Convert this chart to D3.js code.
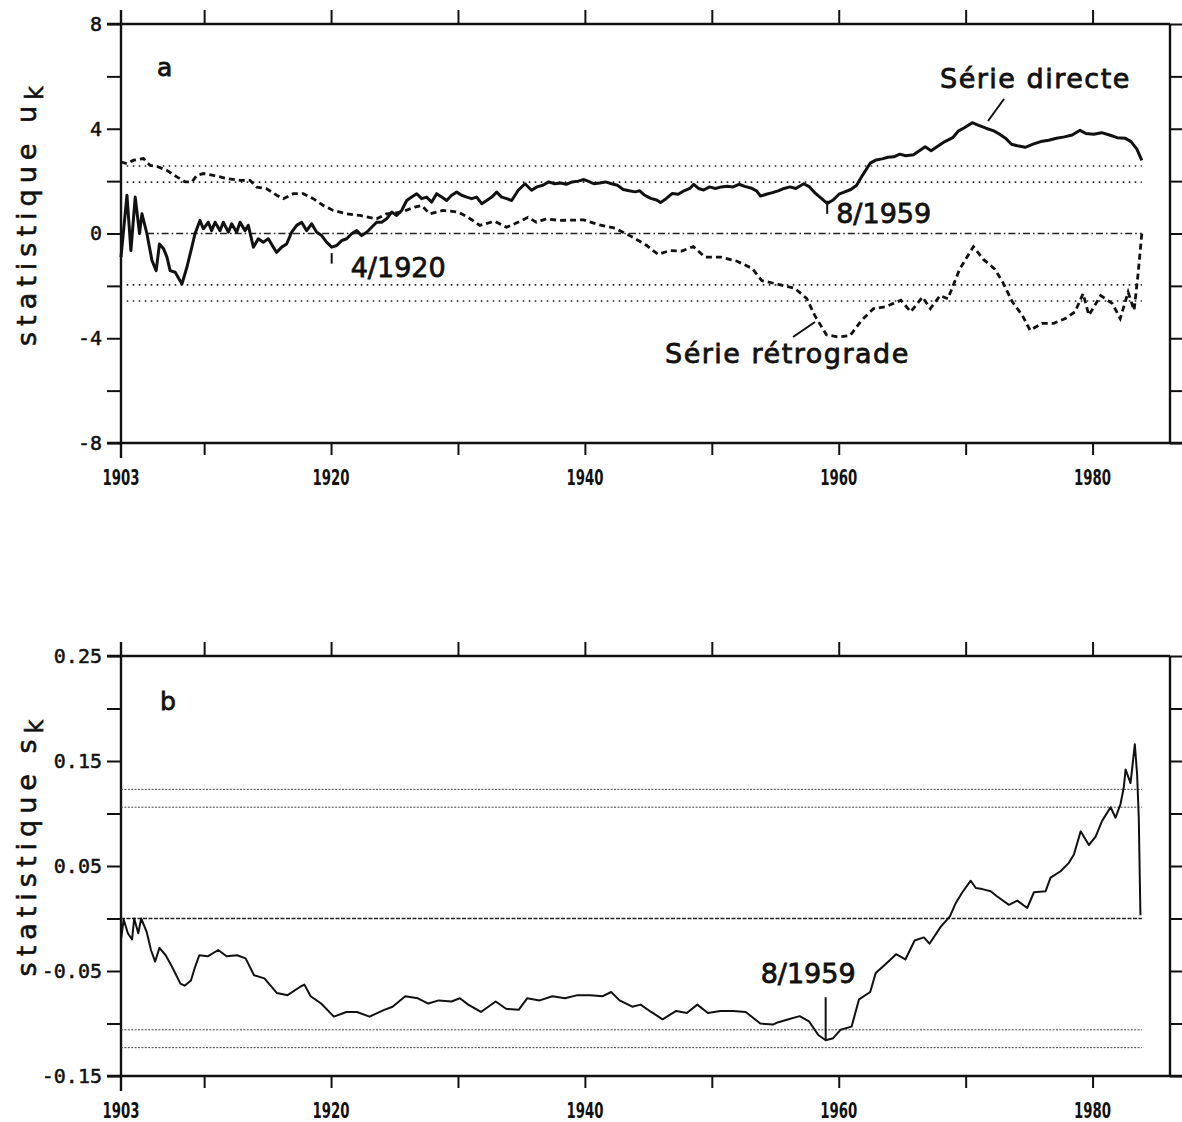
<!DOCTYPE html>
<html>
<head>
<meta charset="utf-8">
<script src="https://cdn.jsdelivr.net/npm/d3@7"></script>
<style>
  body { margin: 0; background: #fff; }
  text { fill: #111; }
</style>
</head>
<body>
<div id="chart"></div>
<script>
// test de Mann-Kendall : serie directe u(t), serie retrograde u'(t) et statistique s_k
var serieDirecte = [
  [1903.45, -0.9], [1903.92, 1.46], [1904.23, -0.65], [1904.57, 1.39], [1904.91, 0.0],
  [1905.1, 0.75], [1905.49, 0.0], [1905.89, -1.03], [1906.22, -1.42], [1906.48, -0.4],
  [1906.8, -0.58], [1907.07, -0.9], [1907.32, -1.42], [1907.72, -1.48], [1908.25, -1.93],
  [1908.64, -1.29], [1909.03, -0.52], [1909.28, -0.01], [1909.67, 0.5], [1909.94, 0.18],
  [1910.33, 0.43], [1910.59, 0.11], [1910.86, 0.43], [1911.25, 0.11], [1911.51, 0.43],
  [1911.91, 0.05], [1912.17, 0.37], [1912.56, 0.05], [1912.83, 0.43], [1913.22, 0.11],
  [1913.48, 0.31], [1913.88, -0.52], [1914.27, -0.2], [1914.66, -0.33], [1915.06, -0.2],
  [1915.45, -0.52], [1915.71, -0.72], [1916.11, -0.52], [1916.5, -0.4], [1916.9, 0.05],
  [1917.29, 0.31], [1917.68, 0.43], [1918.08, 0.11], [1918.47, 0.37], [1918.87, 0.05],
  [1919.26, -0.08], [1919.65, -0.33], [1920.05, -0.52], [1920.44, -0.46], [1920.84, -0.27],
  [1921.23, -0.2], [1921.62, -0.01], [1922.02, 0.11], [1922.41, -0.08], [1922.81, 0.05],
  [1923.2, 0.24], [1923.59, 0.43], [1923.99, 0.43], [1924.38, 0.56], [1924.78, 0.82],
  [1925.17, 0.69], [1925.56, 0.88], [1925.96, 1.26], [1926.35, 1.39], [1926.75, 1.52],
  [1927.14, 1.33], [1927.53, 1.39], [1927.93, 1.2], [1928.32, 1.52], [1928.72, 1.39],
  [1929.11, 1.26], [1929.5, 1.46], [1929.9, 1.58], [1930.29, 1.46], [1930.69, 1.39],
  [1931.08, 1.33], [1931.47, 1.39], [1931.87, 1.14], [1932.26, 1.26], [1932.66, 1.39],
  [1933.05, 1.58], [1933.44, 1.39], [1933.84, 1.33], [1934.23, 1.26], [1934.75, 1.65],
  [1935.28, 1.9], [1935.8, 1.65], [1936.22, 1.78], [1936.69, 1.84], [1937.15, 1.97],
  [1937.62, 1.9], [1938.08, 1.93], [1938.54, 1.88], [1939.01, 1.97], [1939.47, 2.0],
  [1939.93, 2.06], [1940.24, 2.0], [1940.7, 1.9], [1941.17, 1.93], [1941.63, 1.97],
  [1942.1, 1.9], [1942.56, 1.84], [1943.02, 1.68], [1943.49, 1.63], [1943.95, 1.59],
  [1944.32, 1.63], [1944.72, 1.46], [1945.19, 1.34], [1945.65, 1.28], [1945.96, 1.18],
  [1946.42, 1.34], [1946.89, 1.53], [1947.35, 1.5], [1947.81, 1.63], [1948.27, 1.72],
  [1948.58, 1.88], [1948.95, 1.72], [1949.36, 1.66], [1949.82, 1.78], [1950.28, 1.72],
  [1950.75, 1.78], [1951.21, 1.8], [1951.68, 1.78], [1952.14, 1.88], [1952.6, 1.8],
  [1953.07, 1.74], [1953.53, 1.63], [1953.84, 1.43], [1954.3, 1.5], [1954.77, 1.56],
  [1955.23, 1.63], [1955.69, 1.72], [1956.16, 1.78], [1956.62, 1.72], [1957.24, 1.9],
  [1957.7, 1.78], [1958.17, 1.53], [1958.63, 1.34], [1959.09, 1.15], [1959.56, 1.28],
  [1960.02, 1.5], [1960.48, 1.59], [1960.95, 1.68], [1961.41, 1.84], [1961.87, 2.22],
  [1962.49, 2.69], [1962.95, 2.81], [1963.42, 2.85], [1963.88, 2.91], [1964.34, 2.93],
  [1964.81, 3.03], [1965.27, 2.97], [1965.89, 3.01], [1966.35, 3.16], [1966.81, 3.31],
  [1967.28, 3.16], [1967.74, 3.31], [1968.36, 3.51], [1968.98, 3.66], [1969.44, 3.92],
  [1969.9, 4.04], [1970.52, 4.23], [1970.98, 4.14], [1971.6, 4.02], [1972.22, 3.92],
  [1972.68, 3.79], [1973.14, 3.64], [1973.61, 3.41], [1974.07, 3.35], [1974.69, 3.29],
  [1975.31, 3.41], [1975.92, 3.51], [1976.54, 3.56], [1977.16, 3.64], [1977.78, 3.69],
  [1978.39, 3.76], [1979.01, 3.94], [1979.47, 3.82], [1980.09, 3.79], [1980.71, 3.85],
  [1981.33, 3.76], [1981.94, 3.66], [1982.56, 3.64], [1983.03, 3.51], [1983.49, 3.22],
  [1983.88, 2.79]
];

var serieRetrograde = [
  [1903.45, 2.73], [1903.92, 2.67], [1904.44, 2.8], [1905.22, 2.86], [1905.75, 2.6],
  [1906.4, 2.54], [1907.07, 2.41], [1907.85, 2.16], [1908.51, 1.97], [1909.03, 1.97],
  [1909.43, 2.22], [1909.94, 2.29], [1910.73, 2.22], [1911.79, 2.1], [1912.83, 2.03],
  [1913.62, 2.03], [1914.15, 1.77], [1914.93, 1.71], [1915.72, 1.46], [1916.24, 1.33],
  [1917.03, 1.52], [1917.81, 1.52], [1918.6, 1.33], [1919.39, 1.07], [1920.17, 0.88],
  [1921.23, 0.75], [1922.27, 0.69], [1923.59, 0.56], [1924.37, 0.75], [1925.55, 0.82],
  [1926.6, 1.01], [1927.13, 1.07], [1927.78, 0.75], [1928.83, 0.88], [1930.01, 0.82],
  [1930.79, 0.62], [1931.72, 0.31], [1932.9, 0.47], [1933.82, 0.24], [1934.47, 0.37],
  [1935.52, 0.62], [1936.18, 0.43], [1936.96, 0.56], [1938.01, 0.5], [1939.9, 0.52],
  [1941.14, 0.33], [1942.38, 0.2], [1943.61, -0.1], [1944.85, -0.45], [1945.77, -0.8],
  [1946.7, -0.65], [1947.62, -0.67], [1948.54, -0.5], [1949.46, -0.9], [1950.7, -0.9],
  [1951.94, -1.05], [1953.17, -1.33], [1953.94, -1.8], [1955.33, -1.95], [1956.56, -2.1],
  [1957.49, -2.49], [1958.1, -3.12], [1959.03, -3.87], [1959.96, -3.95], [1960.89, -3.9],
  [1961.81, -3.31], [1962.74, -2.87], [1963.67, -2.8], [1964.9, -2.55], [1965.67, -2.99],
  [1966.6, -2.43], [1967.22, -2.87], [1967.99, -2.37], [1968.6, -2.49], [1969.53, -1.36],
  [1970.61, -0.5], [1971.38, -0.98], [1972.3, -1.36], [1972.92, -1.86], [1973.69, -2.62],
  [1974.46, -3.12], [1975.08, -3.7], [1976.0, -3.43], [1976.93, -3.43], [1977.85, -3.25],
  [1978.62, -2.99], [1979.25, -2.3], [1979.71, -3.12], [1980.64, -2.37], [1981.57, -2.68],
  [1982.18, -3.25], [1982.8, -2.24], [1983.27, -2.93], [1983.57, -1.61], [1983.88, 0.0]
];

var statSk = [
  [1903.45, -0.02], [1903.66, -0.001], [1903.99, -0.014], [1904.32, -0.02], [1904.49, 0.0],
  [1904.81, -0.014], [1905.04, 0.0], [1905.48, -0.013], [1905.81, -0.03], [1906.14, -0.041],
  [1906.48, -0.028], [1906.97, -0.035], [1907.47, -0.046], [1908.13, -0.062], [1908.46, -0.064],
  [1908.96, -0.059], [1909.29, -0.046], [1909.62, -0.035], [1910.28, -0.036], [1911.11, -0.03],
  [1911.77, -0.036], [1912.6, -0.035], [1913.27, -0.038], [1913.93, -0.054], [1914.75, -0.057],
  [1915.74, -0.071], [1916.58, -0.073], [1917.57, -0.065], [1917.9, -0.063], [1918.39, -0.074],
  [1919.22, -0.081], [1920.22, -0.0935], [1921.21, -0.089], [1922.04, -0.089], [1923.03, -0.0935],
  [1924.19, -0.087], [1924.85, -0.084], [1925.85, -0.074], [1926.84, -0.076], [1927.66, -0.081],
  [1928.49, -0.078], [1929.49, -0.079], [1930.15, -0.076], [1930.81, -0.082], [1931.81, -0.089],
  [1932.97, -0.079], [1933.79, -0.086], [1934.78, -0.087], [1935.45, -0.076], [1936.44, -0.078],
  [1937.44, -0.074], [1938.43, -0.076], [1939.42, -0.073], [1940.42, -0.073], [1941.41, -0.074],
  [1942.07, -0.07], [1942.73, -0.078], [1943.73, -0.084], [1944.39, -0.082], [1945.22, -0.089],
  [1946.12, -0.096], [1947.2, -0.088], [1948.03, -0.09], [1948.86, -0.082], [1949.69, -0.09],
  [1950.68, -0.088], [1951.68, -0.088], [1952.67, -0.089], [1953.82, -0.1], [1954.82, -0.101],
  [1955.18, -0.099], [1956.05, -0.096], [1956.92, -0.093], [1957.66, -0.098], [1958.39, -0.111],
  [1958.97, -0.116], [1959.56, -0.114], [1960.14, -0.106], [1961.01, -0.103], [1961.6, -0.077],
  [1962.48, -0.07], [1962.91, -0.052], [1963.64, -0.044], [1964.52, -0.034], [1965.25, -0.039],
  [1965.98, -0.021], [1966.71, -0.018], [1967.15, -0.024], [1968.03, -0.008], [1968.76, 0.002],
  [1969.19, 0.014], [1969.74, 0.025], [1970.4, 0.036], [1970.8, 0.029], [1971.31, 0.028],
  [1971.97, 0.026], [1972.49, 0.021], [1973.41, 0.013], [1974.07, 0.017], [1974.85, 0.01],
  [1975.38, 0.025], [1976.3, 0.026], [1976.69, 0.039], [1977.48, 0.045], [1978.13, 0.053],
  [1978.53, 0.061], [1979.06, 0.083], [1979.71, 0.07], [1980.24, 0.078], [1980.75, 0.093],
  [1981.42, 0.106], [1981.81, 0.096], [1982.2, 0.109], [1982.46, 0.125], [1982.6, 0.142],
  [1982.99, 0.129], [1983.33, 0.166], [1983.51, 0.137], [1983.64, 0.096], [1983.77, 0.003]
];

var yearTicks = [1910, 1920, 1930, 1940, 1950, 1960, 1970, 1980];
var yearLabels = [1903, 1920, 1940, 1960, 1980];
var ukTicks = [-8, -6, -4, -2, 0, 2, 4, 6, 8];
var ukLabels = [-8, -4, 0, 4, 8];
var skTicks = [-0.15, -0.1, -0.05, 0, 0.05, 0.1, 0.15, 0.2, 0.25];
var skLabels = [-0.15, -0.05, 0.05, 0.15, 0.25];
var seuilsUk = [2.58, 1.96, -1.96, -2.58];
var seuilsSk = [0.123, 0.106, -0.106, -0.123];

var width = 1182, height = 1122;
var svg = d3.select("#chart").append("svg")
  .attr("width", width)
  .attr("height", height)
  .style("font-family", "'DejaVu Sans', sans-serif");

var xStart = 1903.45, xEnd = 1983.88;
var x = d3.scaleLinear().domain([1903.45, 1986.1]).range([121, 1170]);

function drawFrame(y, ticks, labels, fmt) {
  var top = y.range()[1], bottom = y.range()[0];
  var g = svg.append("g");

  g.append("g")
    .attr("transform", "translate(121,0)")
    .call(d3.axisLeft(y).tickValues(ticks).tickSize(14).tickSizeOuter(0)
      .tickPadding(5)
      .tickFormat(function(d) { return labels.indexOf(d) >= 0 ? fmt(d) : ""; }))
    .call(function(a) { a.select(".domain").remove(); });
  g.append("g")
    .attr("transform", "translate(1170,0)")
    .call(d3.axisRight(y).tickValues(ticks).tickSize(14).tickSizeOuter(0).tickFormat(""))
    .call(function(a) { a.select(".domain").remove(); });
  g.append("g")
    .attr("transform", "translate(0," + top + ")")
    .call(d3.axisTop(x).tickValues(yearTicks).tickSize(14).tickSizeOuter(0).tickFormat(""))
    .call(function(a) { a.select(".domain").remove(); });
  g.append("g")
    .attr("transform", "translate(0," + bottom + ")")
    .call(d3.axisBottom(x).tickValues(yearTicks).tickSize(12).tickSizeOuter(0).tickFormat(""))
    .call(function(a) { a.select(".domain").remove(); });

  g.selectAll(".tick line").attr("stroke", "#111").attr("stroke-width", 2);
  g.selectAll(".tick text")
    .style("font-family", "'DejaVu Sans Mono', monospace")
    .style("font-size", "20px")
    .attr("fill", "#111")
    .attr("stroke", "#111")
    .attr("stroke-width", 0.5);

  // cadre
  g.append("line").attr("x1", 121).attr("x2", 121).attr("y1", top - 14).attr("y2", bottom + 15);
  g.append("line").attr("x1", 107).attr("x2", 1170).attr("y1", top).attr("y2", top);
  g.append("line").attr("x1", 1170).attr("x2", 1170).attr("y1", top).attr("y2", bottom);
  g.append("line").attr("x1", 107).attr("x2", 1182).attr("y1", bottom).attr("y2", bottom);
  g.selectAll(":scope > line").attr("stroke", "#111").attr("stroke-width", 2.4);

  g.selectAll(".yr")
    .data(yearLabels)
    .enter()
    .append("text")
    .attr("class", "yr")
    .attr("x", function(d) { return x(d === 1903 ? xStart : d); })
    .attr("y", bottom + 42)
    .attr("text-anchor", "middle")
    .attr("textLength", 37)
    .attr("lengthAdjust", "spacingAndGlyphs")
    .style("font-size", "21px")
    .style("font-weight", "bold")
    .text(function(d) { return d; });
}

function hline(y, v, x0, dash, w, col) {
  svg.append("line")
    .attr("x1", x(x0)).attr("x2", x(xEnd))
    .attr("y1", y(v)).attr("y2", y(v))
    .attr("stroke", col)
    .attr("stroke-width", w)
    .attr("stroke-dasharray", dash);
}

function axisTitle(cx, cy, main, sub) {
  var t = svg.append("text")
    .attr("transform", "translate(" + cx + "," + cy + ") rotate(-90)")
    .attr("text-anchor", "middle")
    .attr("stroke", "#111")
    .attr("stroke-width", 0.6)
    .style("font-size", "27px")
    .style("letter-spacing", "6px");
  t.append("tspan").text(main);
  t.append("tspan").attr("dy", 7).style("font-size", "24px").text(sub);
}

// ---------- panneau a ----------
var ya = d3.scaleLinear().domain([-8, 8]).range([443, 24]);
drawFrame(ya, ukTicks, ukLabels, function(d) { return d < 0 ? "-" + Math.abs(d) : "" + d; });

seuilsUk.forEach(function(s) { hline(ya, s, 1903.9, "1.6,4.4", 1.6, "#222"); });
hline(ya, 0, 1905.5, "7,3,1.6,3", 1.6, "#222");

var lineA = d3.line()
  .x(function(d) { return x(d[0]); })
  .y(function(d) { return ya(d[1]); });

svg.append("path")
  .datum(serieRetrograde)
  .attr("d", lineA)
  .attr("fill", "none")
  .attr("stroke", "#111")
  .attr("stroke-width", 2.8)
  .attr("stroke-dasharray", "6,4");

svg.append("path")
  .datum(serieDirecte)
  .attr("d", lineA)
  .attr("fill", "none")
  .attr("stroke", "#111")
  .attr("stroke-width", 3)
  .attr("stroke-linejoin", "round");

var annA = svg.append("g")
  .style("font-size", "27px")
  .attr("stroke", "#111")
  .attr("stroke-width", 0.8);
annA.append("text").attr("x", 157).attr("y", 76).style("font-size", "25px").text("a");
annA.append("line").attr("x1", x(1920.05)).attr("x2", x(1920.05))
  .attr("y1", ya(-0.75)).attr("y2", ya(-1.15));
annA.append("text").attr("x", x(1920.05) + 19).attr("y", 277).text("4/1920");
annA.append("line").attr("x1", x(1959.09)).attr("x2", x(1959.09))
  .attr("y1", ya(1.25)).attr("y2", ya(0.75));
annA.append("text").attr("x", x(1959.09) + 9).attr("y", 223).text("8/1959");
annA.append("text").attr("x", 940).attr("y", 88).style("letter-spacing", "1.5px").text("Série directe");
annA.append("line").attr("x1", 1004).attr("y1", 99).attr("x2", 988).attr("y2", 121);
annA.append("text").attr("x", 665).attr("y", 363).style("letter-spacing", "1.5px").text("Série rétrograde");
annA.append("line").attr("x1", 793).attr("y1", 337).attr("x2", 815).attr("y2", 322);
annA.selectAll("line").attr("stroke-width", 2);

axisTitle(36, 213, "statistique u", "k");

// ---------- panneau b ----------
var yb = d3.scaleLinear().domain([-0.15, 0.25]).range([1076, 656]);
drawFrame(yb, skTicks, skLabels, function(d) { return d3.format(".2f")(d).replace("−", "-"); });

seuilsSk.forEach(function(s) { hline(yb, s, xStart, "2,1.4", 1, "#444"); });
hline(yb, 0, xStart, "4,1.5", 1.3, "#222");

var lineB = d3.line()
  .x(function(d) { return x(d[0]); })
  .y(function(d) { return yb(d[1]); });

svg.append("path")
  .datum(statSk)
  .attr("d", lineB)
  .attr("fill", "none")
  .attr("stroke", "#111")
  .attr("stroke-width", 2)
  .attr("stroke-linejoin", "round");

var annB = svg.append("g")
  .style("font-size", "27px")
  .attr("stroke", "#111")
  .attr("stroke-width", 0.8);
annB.append("text").attr("x", 160).attr("y", 710).style("font-size", "25px").text("b");
annB.append("line").attr("x1", x(1958.97)).attr("x2", x(1958.97))
  .attr("y1", yb(-0.075)).attr("y2", yb(-0.116))
  .attr("stroke-width", 2);
annB.append("text").attr("x", x(1958.97) - 65).attr("y", 983).text("8/1959");

axisTitle(36, 845, "statistique s", "k");
</script>
</body>
</html>
